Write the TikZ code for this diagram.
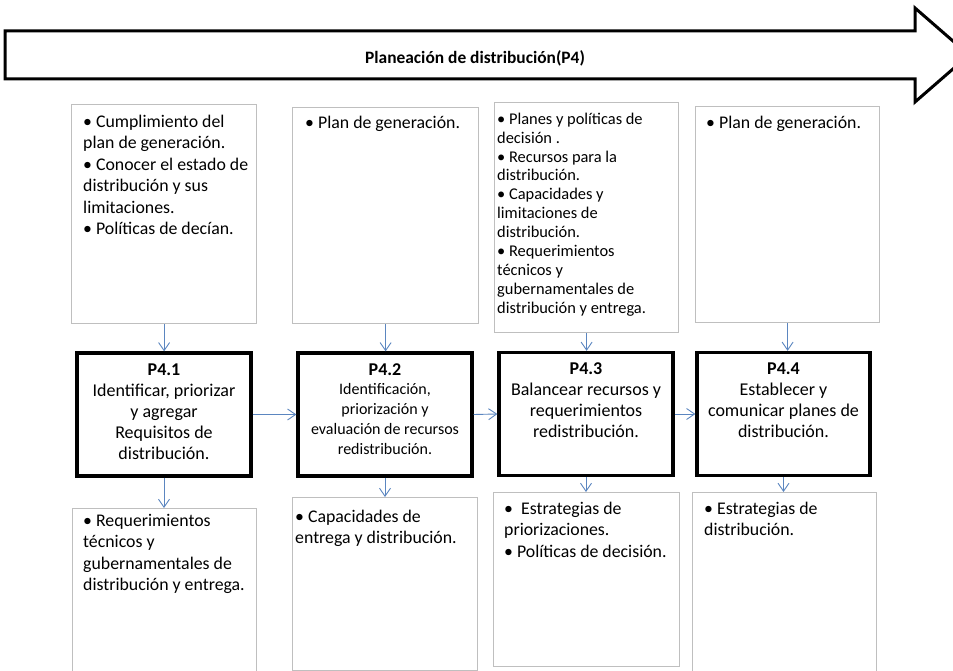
\documentclass[tikz,border=0pt]{standalone}
\usepackage{fontspec}
\setmainfont{Carlito}
\usetikzlibrary{arrows.meta,calc}
\definecolor{boxgray}{HTML}{BFBFBF}
\definecolor{linkblue}{HTML}{5B86C0}
% fixed ascent for the first line of every text block
\newcommand\firstline{\rule{0pt}{13pt}}
\begin{document}
\begin{tikzpicture}[x=1pt,y=-1pt,
  gbox/.style={draw=boxgray, line width=1.2pt, fill=white, inner sep=0pt, anchor=north west},
  pbox/.style={draw=black, line width=3.3pt, fill=white, inner sep=0pt, minimum width=174pt, minimum height=123pt},
  note/.style={font=\fontsize{17.8}{21.5}\selectfont, align=left, inner sep=0pt, anchor=north west},
  smallnote/.style={note, font=\fontsize{16.4}{18.9}\selectfont},
  ptext/.style={font=\fontsize{18}{21}\selectfont, align=center, inner sep=0pt, anchor=north},
  conn/.style={draw=linkblue, line width=0.9pt, -{Straight Barb[length=8pt,width=11pt]}}
]
\clip (0,0) rectangle (953,671);
\fill[white] (0,0) rectangle (953,671);

% banner arrow
\draw[line width=3pt, line join=miter, fill=white]
  (5,31) -- (915,31) -- (915,8) -- (969,55) -- (915,102) -- (915,79) -- (5,79) -- cycle;
\node[font=\fontsize{17.4}{20}\selectfont\bfseries, inner sep=0pt, anchor=base] (title) at (475,64) {Planeación de distribución(P4)};

% input boxes
\node[gbox, minimum width=185pt, minimum height=219pt] (t1) at (71,104) {};
\node[gbox, minimum width=186pt, minimum height=216pt] (t2) at (292,107) {};
\node[gbox, minimum width=184pt, minimum height=230pt] (t3) at (494,102) {};
\node[gbox, minimum width=184pt, minimum height=216pt] (t4) at (695,106) {};

\node[note] (t1txt) at (83,114) {\firstline• Cumplimiento del\\plan de generación.\\• Conocer el estado de\\distribución y sus\\limitaciones.\\• Políticas de decían.};
\node[note] (t2txt) at (305,115) {\firstline• Plan de generación.};
\node[smallnote] (t3txt) at (497,111) {\firstline• Planes y políticas de\\decisión .\\• Recursos para la\\distribución.\\• Capacidades y\\limitaciones de\\distribución.\\• Requerimientos\\técnicos y\\gubernamentales de\\distribución y entrega.};
\node[note] (t4txt) at (706,115) {\firstline• Plan de generación.};

% process boxes
\node[pbox] (p1) at (164,414.5) {};
\node[pbox] (p2) at (385,414.5) {};
\node[pbox] (p3) at (586,414) {};
\node[pbox, minimum width=173pt] (p4) at (783.5,414) {};

\node[ptext] (p1txt) at (164,362) {\firstline\textbf{P4.1}\\Identificar, priorizar\\y agregar\\Requisitos de\\distribución.};
\node[ptext, font=\fontsize{16}{19.7}\selectfont] (p2txt) at (385,362) {\firstline{\fontsize{18}{19.7}\selectfont\bfseries P4.2}\\Identificación,\\priorización y\\evaluación de recursos\\redistribución.};
\node[ptext] (p3txt) at (586,361) {\firstline\textbf{P4.3}\\Balancear recursos y\\requerimientos\\redistribución.};
\node[ptext] (p4txt) at (783.5,361) {\firstline\textbf{P4.4}\\Establecer y\\comunicar planes de\\distribución.};

% output boxes
\node[gbox, minimum width=184pt, minimum height=185pt] (b1) at (72,508) {};
\node[gbox, minimum width=185pt, minimum height=173pt] (b2) at (292,497) {};
\node[gbox, minimum width=186pt, minimum height=174pt] (b3) at (493,492) {};
\node[gbox, minimum width=184pt, minimum height=190pt] (b4) at (692,492) {};

\node[note] (b1txt) at (83,513) {\firstline• Requerimientos\\técnicos y\\gubernamentales de\\distribución y entrega.};
\node[note] (b2txt) at (295,509) {\firstline• Capacidades de\\entrega y distribución.};
\node[note] (b3txt) at (504,501) {\firstline•\ \ Estrategias de\\priorizaciones.\\• Políticas de decisión.};
\node[note] (b4txt) at (704,501) {\firstline• Estrategias de\\distribución.};

% connectors
\draw[conn] (t1.south) -- (t1.south |- p1.north);
\draw[conn] (t2.south) -- (t2.south |- p2.north);
\draw[conn] (t3.south) -- (t3.south |- p3.north);
\draw[conn] (t4.south) -- (t4.south |- p4.north);
\draw[conn] (p1.east) -- (p2.west);
\draw[conn] (p2.east) -- (p3.west);
\draw[conn] (p3.east) -- (p4.west);
\draw[conn] (p1.south) -- (p1.south |- b1.north);
\draw[conn] (p2.south) -- (p2.south |- b2.north);
\draw[conn] (p3.south) -- (p3.south |- b3.north);
\draw[conn] (p4.south) -- (p4.south |- b4.north);
\end{tikzpicture}
\end{document}
